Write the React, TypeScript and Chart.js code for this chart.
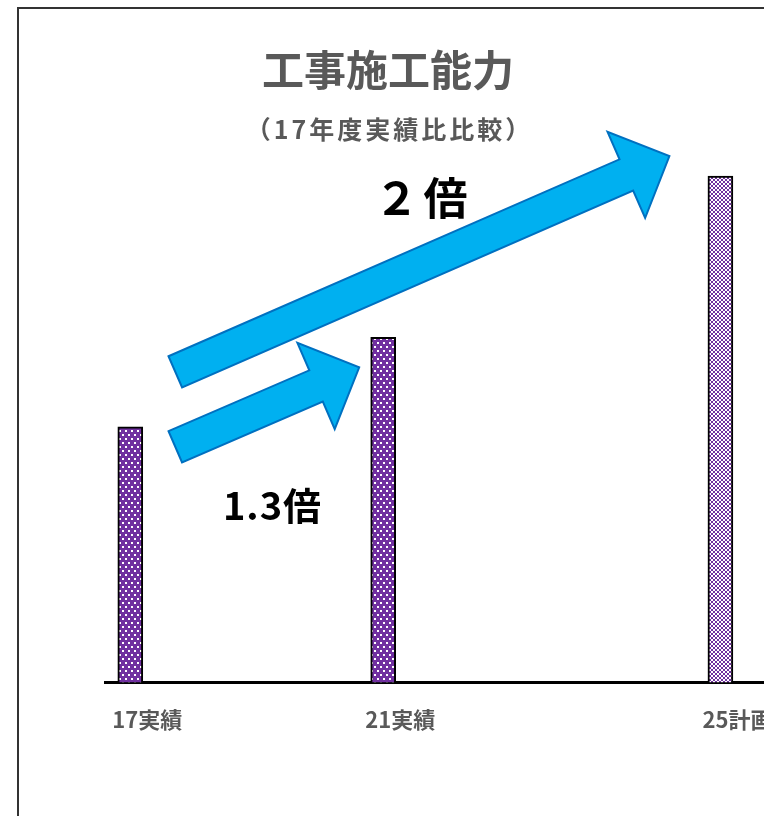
import { useEffect, useRef } from 'react';
import { Chart, registerables } from 'chart.js';

Chart.register(...registerables);

// Axis slots (blank slots keep the original uneven spacing of the categories)
const tickLabels = ['17実績', '', '', '21実績', '', '', '', '25計画', ''];
// 工事施工能力 (17実績 = 100)
const capacity: (number | null)[] = [100, null, null, 135, null, null, null, 198, null];
const titleText = '工事施工能力';
const subtitleText = '（17年度実績比比較）';
const ratioSmall = '1.3倍';
const ratioLarge = '２倍';

const FONT = '"Noto Sans CJK JP", "Noto Sans", sans-serif';
const PURPLE = '#7030A0';

function makeDots(): CanvasPattern | string {
  const t = document.createElement('canvas');
  t.width = 6;
  t.height = 8;
  const c = t.getContext('2d');
  if (!c) return PURPLE;
  c.fillStyle = PURPLE;
  c.fillRect(0, 0, 6, 8);
  c.fillStyle = '#ffffff';
  c.fillRect(1, 1, 2, 2);
  c.fillRect(4, 5, 2, 2);
  return c.createPattern(t, 'repeat') || PURPLE;
}

function makeChecker(): CanvasPattern | string {
  const t = document.createElement('canvas');
  t.width = 4;
  t.height = 4;
  const c = t.getContext('2d');
  if (!c) return PURPLE;
  c.fillStyle = '#ffffff';
  c.fillRect(0, 0, 4, 4);
  c.fillStyle = PURPLE;
  c.fillRect(0, 0, 2, 2);
  c.fillRect(2, 2, 2, 2);
  return c.createPattern(t, 'repeat') || PURPLE;
}

function drawArrow(ctx: CanvasRenderingContext2D, x0: number, y0: number, x1: number, y1: number) {
  const ang = Math.atan2(y1 - y0, x1 - x0);
  const L = Math.hypot(x1 - x0, y1 - y0);
  const sh = 17;
  const hh = 47;
  const hl = 47;
  ctx.save();
  ctx.translate(x0, y0);
  ctx.rotate(ang);
  ctx.beginPath();
  ctx.moveTo(0, -sh);
  ctx.lineTo(L - hl, -sh);
  ctx.lineTo(L - hl, -hh);
  ctx.lineTo(L, 0);
  ctx.lineTo(L - hl, hh);
  ctx.lineTo(L - hl, sh);
  ctx.lineTo(0, sh);
  ctx.closePath();
  ctx.fillStyle = '#00B0F0';
  ctx.fill();
  ctx.lineWidth = 2;
  ctx.lineJoin = 'miter';
  ctx.strokeStyle = '#0070C0';
  ctx.stroke();
  ctx.restore();
}

function spacedText(ctx: CanvasRenderingContext2D, text: string, x: number, y: number, spacing: number) {
  const c = ctx as any;
  if ('letterSpacing' in c) {
    c.letterSpacing = `${spacing}px`;
    ctx.fillText(text, x + spacing / 2, y);
    c.letterSpacing = '0px';
  } else {
    ctx.fillText(text, x, y);
  }
}

const overlayPlugin = {
  id: 'overlay',
  afterDatasetsDraw(chart: any) {
    const ctx: CanvasRenderingContext2D = chart.ctx;
    const els = chart.getDatasetMeta(0).data;
    const idx = capacity.map((v, i) => (v == null ? -1 : i)).filter((i) => i >= 0);
    const b0 = els[idx[0]];
    const b1 = els[idx[1]];
    const b2 = els[idx[2]];
    drawArrow(ctx, b0.x + 45, b0.y + 20, b1.x - 24, b1.y + 30);
    drawArrow(ctx, b0.x + 45, b0.y - 55, b2.x - 51, b2.y - 20);

    ctx.save();
    ctx.textAlign = 'center';
    ctx.textBaseline = 'middle';
    ctx.fillStyle = '#595959';
    ctx.font = `bold 42px ${FONT}`;
    ctx.fillText(titleText, 369, 61);
    ctx.font = `bold 25px ${FONT}`;
    spacedText(ctx, subtitleText, 369, 120, 3);
    ctx.fillStyle = '#000000';
    ctx.font = `bold 44px ${FONT}`;
    spacedText(ctx, ratioLarge, 402, 189, 5);
    ctx.font = `bold 38px ${FONT}`;
    spacedText(ctx, ratioSmall, 253, 497, 1);
    ctx.restore();
  },
};

export default function App() {
  const ref = useRef<HTMLCanvasElement | null>(null);

  useEffect(() => {
    const canvas = ref.current;
    if (!canvas) return;
    const dots = makeDots();
    const checker = makeChecker();
    const chart = new Chart(canvas, {
      type: 'bar',
      data: {
        datasets: [
          {
            label: '工事施工能力',
            data: capacity.map((v, i) => ({ x: i, y: v })) as any,
            backgroundColor: (c: any) =>
              (tickLabels[c.dataIndex] || '').includes('計画') ? checker : dots,
            borderColor: '#000000',
            borderWidth: 2,
            barThickness: 25,
          },
        ],
      },
      options: {
        animation: false,
        responsive: false,
        maintainAspectRatio: false,
        layout: { padding: { left: 86, top: 162, right: 39, bottom: 72 } },
        plugins: {
          legend: { display: false },
          title: { display: false },
          tooltip: { enabled: false },
        },
        scales: {
          x: {
            type: 'linear',
            offset: false,
            min: -0.3,
            max: 8.3,
            afterBuildTicks: (scale: any) => {
              scale.ticks = tickLabels.map((_, i) => ({ value: i }));
            },
            grid: { display: false, drawTicks: false, offset: false },
            border: { display: true, color: '#000000', width: 3 },
            ticks: {
              autoSkip: false,
              maxRotation: 0,
              padding: 24,
              labelOffset: 17,
              color: '#595959',
              font: { family: FONT, size: 22, weight: 'bold' },
              callback: (v: any) => tickLabels[v as number] ?? '',
            },
          },
          y: {
            display: false,
            min: 0,
            max: 200,
          },
        },
      },
      plugins: [overlayPlugin],
    } as any);
    return () => chart.destroy();
  }, []);

  return (
    <div style={{ position: 'fixed', inset: 0, overflow: 'hidden', background: '#ffffff' }}>
      <div
        style={{
          position: 'absolute',
          left: 17,
          top: 7,
          width: 1000,
          height: 1000,
          borderLeft: '2px solid #333333',
          borderTop: '2px solid #333333',
        }}
      >
        <canvas ref={ref} width={850} height={820} style={{ display: 'block' }} />
      </div>
    </div>
  );
}
